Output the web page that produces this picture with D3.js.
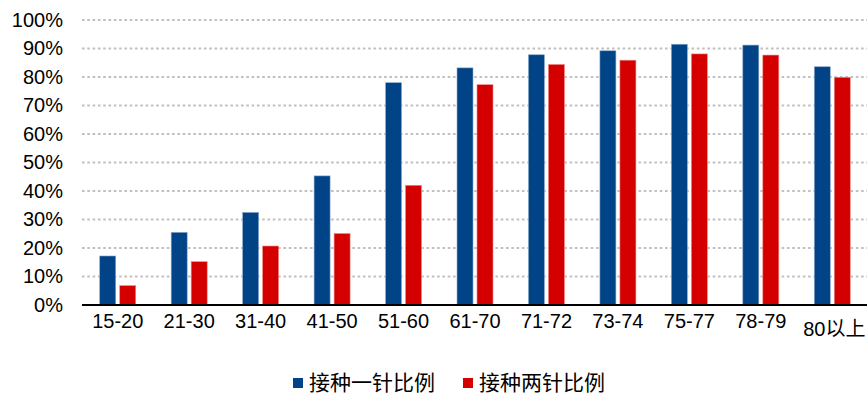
<!DOCTYPE html>
<html>
<head>
<meta charset="utf-8">
<script src="https://cdn.jsdelivr.net/npm/d3@7"></script>
<style>
  html, body { margin: 0; padding: 0; background: #fff; }
  svg { display: block; }
  text { font-family: "Liberation Sans", Arial, "Noto Sans CJK SC", sans-serif; fill: #000; }
</style>
</head>
<body>
<svg id="chart" width="867" height="396"></svg>
<script>
// Age groups and vaccination rates (%)
const categories = ["15-20","21-30","31-40","41-50","51-60","61-70","71-72","73-74","75-77","78-79","80以上"];
const oneDose = [17.2, 25.5, 32.5, 45.3, 78.0, 83.2, 87.8, 89.2, 91.5, 91.2, 83.6];
const twoDose = [6.8, 15.2, 20.7, 25.1, 42.0, 77.3, 84.4, 85.9, 88.1, 87.7, 79.9];
const seriesNames = ["接种一针比例", "接种两针比例"];
const yTicks = [0,10,20,30,40,50,60,70,80,90,100];

const colors = ["#004386", "#d40000"];
const svg = d3.select("#chart");
const plot = { left: 82, right: 868, top: 20, bottom: 305 };

const x = d3.scaleBand().domain(categories).range([plot.left, plot.right]).paddingInner(0).paddingOuter(0);
const y = d3.scaleLinear().domain([0, 100]).range([plot.bottom, plot.top]);

// dotted horizontal gridlines
svg.append("g").selectAll("line").data(yTicks.filter(d => d > 0)).join("line")
  .attr("x1", plot.left).attr("x2", 867)
  .attr("y1", d => y(d)).attr("y2", d => y(d))
  .attr("stroke", "#c0c0c0").attr("stroke-width", 2)
  .attr("stroke-dasharray", "2.6 2.7");

// y axis labels
const yAxis = d3.axisLeft(y).tickValues(yTicks).tickFormat(d => d + "%").tickSize(0).tickPadding(0);
svg.append("g").attr("transform", `translate(${plot.left - 19},0)`).call(yAxis)
  .call(g => g.select(".domain").remove())
  .selectAll("text").style("font-size", "20px").attr("fill", "#000")
  .attr("font-family", "Liberation Sans, Arial, sans-serif");

// bars
const barW = 16, gap = 4;
const groups = svg.append("g").selectAll("g").data(categories).join("g")
  .attr("transform", d => `translate(${x(d) + x.bandwidth() / 2},0)`);
groups.append("rect")
  .attr("x", -gap / 2 - barW).attr("width", barW)
  .attr("y", (d, i) => y(oneDose[i])).attr("height", (d, i) => y(0) - y(oneDose[i]))
  .attr("fill", colors[0]).attr("stroke", "#8fa9cf").attr("stroke-width", 0.6);
groups.append("rect")
  .attr("x", gap / 2).attr("width", barW)
  .attr("y", (d, i) => y(twoDose[i])).attr("height", (d, i) => y(0) - y(twoDose[i]))
  .attr("fill", colors[1]).attr("stroke", "#f08a8a").attr("stroke-width", 0.6);

// x axis (the last, mixed-script label sits a little lower)
const xAxis = d3.axisBottom(x).tickSize(0).tickPadding(0);
const xg = svg.append("g").attr("transform", `translate(0,${plot.bottom})`).call(xAxis);
xg.select(".domain").remove();
xg.selectAll("text").style("font-size", "20px").attr("fill", "#000")
  .attr("dy", null).attr("y", (d, i) => i === categories.length - 1 ? 31 : 23)
  .attr("dx", (d, i) => i === categories.length - 1 ? 2 : 0)
  .attr("font-family", "Liberation Sans, Arial, 'Noto Sans CJK SC', sans-serif");
svg.append("line").attr("x1", plot.left).attr("x2", 867).attr("y1", plot.bottom).attr("y2", plot.bottom)
  .attr("stroke", "#000").attr("stroke-width", 2);

// legend
const legendPos = [293, 463];
const lg = svg.append("g").selectAll("g").data(seriesNames).join("g")
  .attr("transform", (d, i) => `translate(${legendPos[i]},378)`);
lg.append("rect").attr("width", 10).attr("height", 10).attr("fill", (d, i) => colors[i]);
lg.append("text").attr("x", 16).attr("y", 12)
  .style("font-size", "21px").attr("font-family", "'Noto Sans CJK SC', sans-serif")
  .text(d => d);
</script>
</body>
</html>
